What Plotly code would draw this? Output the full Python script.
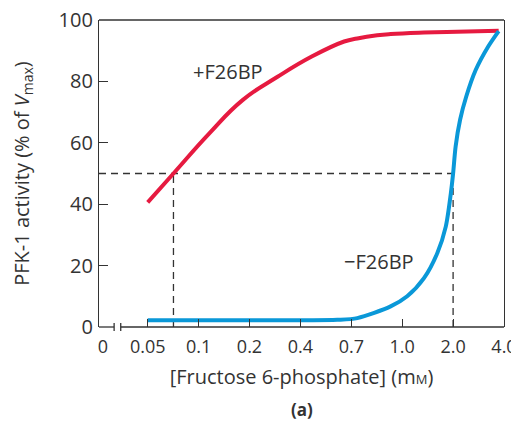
import numpy as np
import plotly.graph_objects as go

# tick labels on the broken, roughly log-spaced x axis
tick_vals = [0.05, 0.1, 0.2, 0.4, 0.7, 1.0, 2.0, 4.0]
tick_text = ["0.05", "0.1", "0.2", "0.4", "0.7", "1.0", "2.0", "4.0"]

# +F26BP curve (red)
red_conc = [0.05, 0.071, 0.115, 0.182, 0.293, 0.453, 0.647, 0.73, 0.839, 0.922, 1.345, 2.11, 3.72]
red_act = [40.6, 50.0, 62.9, 73.9, 81.5, 88.1, 93.0, 94.0, 95.0, 95.4, 95.9, 96.2, 96.5]

# -F26BP curve (blue)
blue_conc = [0.05, 0.1, 0.2, 0.4, 0.6, 0.73, 0.922, 1.07, 1.345, 1.614, 1.81, 1.94, 2.0,
             2.07, 2.2, 2.39, 2.72, 3.22, 3.72]
blue_act = [2.2, 2.2, 2.2, 2.2, 2.35, 2.9, 6.7, 10.0, 15.9, 24.1, 32.7, 43.6, 50.0,
            58.8, 67.5, 75.0, 83.7, 91.3, 96.4]

# half-maximal points
half_act = 50
half_red = 0.071
half_blue = 2.0

tick_idx = np.arange(1, len(tick_vals) + 1)


def to_pos(c):
    # map concentration onto the evenly spaced tick positions
    return np.interp(np.log(c), np.log(tick_vals), tick_idx)


RED = "#e61a40"
BLUE = "#0a98d8"
INK = "#333333"
FONT = "Open Sans"
x0, x1 = 0.043, 8.0

fig = go.Figure()
fig.add_trace(go.Scatter(x=to_pos(np.array(red_conc)), y=red_act, mode="lines",
                         line=dict(color=RED, width=4, shape="spline", smoothing=1.3),
                         showlegend=False, hoverinfo="skip"))
fig.add_trace(go.Scatter(x=to_pos(np.array(blue_conc)), y=blue_act, mode="lines",
                         line=dict(color=BLUE, width=4, shape="spline", smoothing=0.8),
                         showlegend=False, hoverinfo="skip"))
# invisible trace so the "0" label axis gets drawn
fig.add_trace(go.Scatter(x=[x0], y=[0], xaxis="x2", mode="markers", opacity=0,
                         showlegend=False, hoverinfo="skip"))

dash = dict(color=INK, width=1.3, dash="7px,5px")
fig.add_shape(type="line", x0=x0, x1=to_pos(half_blue), y0=half_act, y1=half_act, line=dash, layer="below")
fig.add_shape(type="line", x0=to_pos(half_red), x1=to_pos(half_red), y0=0, y1=half_act, line=dash, layer="below")
fig.add_shape(type="line", x0=to_pos(half_blue), x1=to_pos(half_blue), y0=0, y1=half_act, line=dash, layer="below")

# frame: top line and broken bottom axis
frame = dict(color=INK, width=1.3)
fig.add_shape(type="line", xref="paper", yref="paper", x0=0, x1=1, y0=1, y1=1, line=frame)
fig.add_shape(type="line", yref="paper", x0=x0, x1=0.34, y0=0, y1=0, line=frame)
fig.add_shape(type="line", yref="paper", x0=0.47, x1=x1, y0=0, y1=0, line=frame)
for bx in (0.34, 0.47):
    fig.add_shape(type="line", yref="paper", x0=bx, x1=bx, y0=-0.013, y1=0.013, line=frame)

fig.add_annotation(x=to_pos(0.15), y=83.2, text="+F26BP", showarrow=False,
                   font=dict(family=FONT, size=20, color=INK))
fig.add_annotation(x=to_pos(0.85), y=21.2, text="\u2212F26BP", showarrow=False,
                   font=dict(family=FONT, size=20, color=INK))
fig.add_annotation(x=0.5, y=-0.268, xref="paper", yref="paper", yanchor="middle",
                   text="<b>(a)</b>", showarrow=False,
                   font=dict(family=FONT, size=17, color=INK))

# page body has an 8px margin, so the figure is drawn smaller to fit the window
fig.update_layout(
    width=511, height=412,
    margin=dict(l=91, r=15, t=12, b=93),
    paper_bgcolor="white", plot_bgcolor="white",
    font=dict(family=FONT, size=17, color=INK),
    xaxis=dict(range=[x0, x1], tickvals=list(tick_idx), ticktext=tick_text,
               ticks="inside", ticklen=8, tickwidth=1.3, tickcolor=INK,
               showline=False, showgrid=False, zeroline=False, automargin=False,
               ticklabelstandoff=7, ticklabeloverflow="allow", tickfont=dict(size=18),
               title=dict(text="[Fructose 6-phosphate] (m<span style='font-size:13px'>M</span>)",
                          standoff=12)),
    xaxis2=dict(overlaying="x", anchor="y", side="bottom", range=[x0, x1],
                tickvals=[0.12], ticktext=["0"], ticks="", showline=False,
                showgrid=False, zeroline=False, automargin=False, ticklabelstandoff=7,
                tickfont=dict(size=18)),
    yaxis=dict(range=[0, 100], tickvals=[0, 20, 40, 60, 80, 100],
               ticks="inside", ticklen=9, tickwidth=1.3, tickcolor=INK,
               showline=True, linecolor=INK, linewidth=1.3, mirror=True,
               showgrid=False, zeroline=False, automargin=False,
               ticklabelstandoff=1, ticklabeloverflow="allow", tickfont=dict(size=20),
               title=dict(text="PFK-1 activity (% of <i>V</i><sub>max</sub>)", standoff=33)),
)

fig.write_html("out.html")
